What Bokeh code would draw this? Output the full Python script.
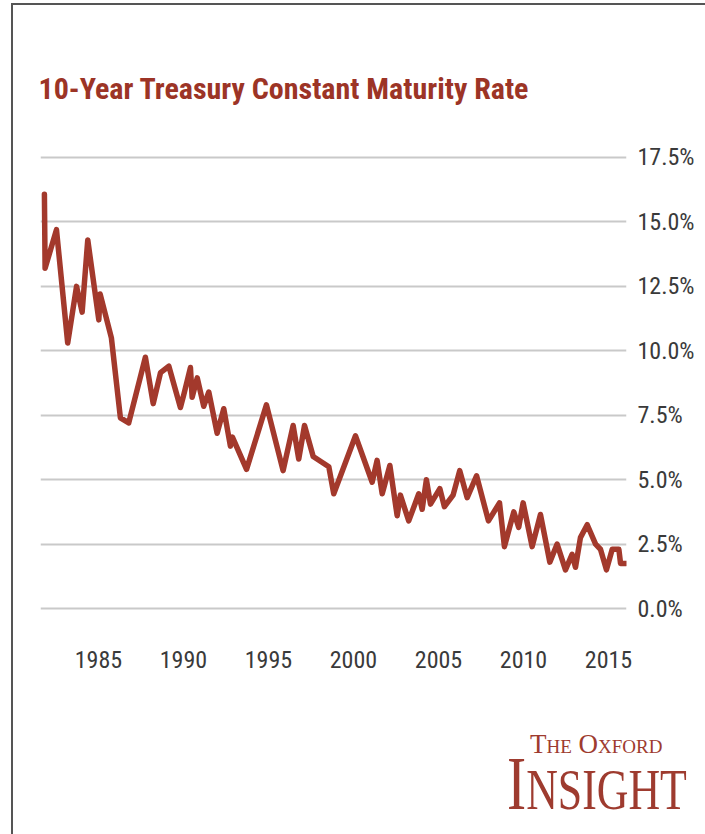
from bokeh.plotting import figure
from bokeh.layouts import column
from bokeh.models import Range1d, FixedTicker, Div
from bokeh.embed import file_html
from bokeh.resources import INLINE

# ---- data ----
years = [1981.82, 1981.86, 1982.53, 1983.19, 1983.71, 1984.04, 1984.37, 1985.02,
         1985.10, 1985.76, 1986.29, 1986.78, 1987.76, 1988.22, 1988.65, 1989.14,
         1989.82, 1990.02, 1990.41, 1990.51, 1990.81, 1991.19, 1991.49, 1991.98,
         1992.37, 1992.76, 1992.88, 1993.71, 1994.88, 1995.86, 1996.45, 1996.78,
         1997.12, 1997.63, 1998.55, 1998.84, 2000.12, 2001.10, 2001.39, 2001.69,
         2002.14, 2002.57, 2002.76, 2003.25, 2003.84, 2004.04, 2004.29, 2004.53,
         2005.08, 2005.35, 2005.86, 2006.25, 2006.69, 2007.24, 2007.94, 2008.59,
         2008.88, 2009.43, 2009.72, 2009.98, 2010.51, 2011.00, 2011.55, 2011.98,
         2012.47, 2012.86, 2013.06, 2013.35, 2013.75, 2014.24, 2014.53, 2014.88,
         2015.22, 2015.61, 2015.71, 2016.05]
rates = [16.07, 13.20, 14.70, 10.30, 12.50, 11.50, 14.30, 11.20,
         12.20, 10.50, 7.40, 7.20, 9.75, 7.95, 9.15, 9.40,
         7.80, 8.30, 9.35, 8.20, 8.95, 7.85, 8.40, 6.80,
         7.75, 6.30, 6.65, 5.40, 7.90, 5.35, 7.10, 5.80,
         7.10, 5.90, 5.50, 4.45, 6.70, 4.90, 5.75, 4.45,
         5.55, 3.60, 4.40, 3.40, 4.45, 3.85, 5.00, 4.05,
         4.65, 3.95, 4.40, 5.35, 4.30, 5.15, 3.40, 4.10,
         2.40, 3.75, 3.15, 4.10, 2.40, 3.65, 1.80, 2.50,
         1.50, 2.10, 1.60, 2.75, 3.25, 2.50, 2.30, 1.50,
         2.30, 2.30, 1.75, 1.75]

y_ticks = [0.0, 2.5, 5.0, 7.5, 10.0, 12.5, 15.0, 17.5]
y_tick_labels = ["0.0%", "2.5%", "5.0%", "7.5%", "10.0%", "12.5%", "15.0%", "17.5%"]
x_ticks = [1985, 1990, 1995, 2000, 2005, 2010, 2015]
x_tick_labels = ["1985", "1990", "1995", "2000", "2005", "2010", "2015"]

title_text = "10-Year Treasury Constant Maturity Rate"
logo_line1 = "The Oxford"
logo_line2 = ("I", "NSIGHT")

RED = "#9c3426"
LINE = "#a3392c"
LOGO = "#9e3b2f"
NARROW = "Roboto Condensed, Liberation Sans Narrow, DejaVu Sans Condensed, sans-serif"

# ---------------- chart ----------------
p = figure(width=705, height=700, output_backend="svg", toolbar_location=None,
           x_range=Range1d(1981.59, 2016.06), y_range=Range1d(-0.31, 17.81),
           y_axis_location="right")
p.min_border_left = 40
p.min_border_right = 79
p.min_border_top = 149
p.min_border_bottom = 84
p.outline_line_color = None
p.background_fill_color = "white"
p.border_fill_alpha = 0

p.title.text = title_text
p.title.align = "left"
p.title.offset = -2
p.title.standoff = 88
p.title.text_font = NARROW
p.title.text_font_style = "bold"
p.title.text_font_size = "30px"
p.title.text_color = RED

p.xgrid.visible = False
p.ygrid.ticker = FixedTicker(ticks=y_ticks)
p.ygrid.grid_line_color = "#c9c9c9"
p.ygrid.grid_line_width = 2

p.line(years, rates, line_color=LINE, line_width=5.5, line_join="round", line_cap="round")

ya = p.yaxis[0]
ya.ticker = FixedTicker(ticks=y_ticks)
ya.major_label_overrides = {t: l for t, l in zip(y_ticks, y_tick_labels)}
xa = p.xaxis[0]
xa.ticker = FixedTicker(ticks=x_ticks)
xa.major_label_overrides = {t: l for t, l in zip(x_ticks, x_tick_labels)}
for ax in (xa, ya):
    ax.axis_line_color = None
    ax.major_tick_line_color = None
    ax.minor_tick_line_color = None
    ax.major_label_text_font = NARROW
    ax.major_label_text_font_size = "24px"
    ax.major_label_text_color = "#3a3a3a"
ya.major_label_standoff = 5
xa.major_label_standoff = 28

# ---------------- logo ----------------
serif = "font-family:'Liberation Serif',serif;color:%s;line-height:1;" % LOGO
logo_html = (
    '<div style="position:relative;width:705px;height:134px;">'
    '<div style="position:absolute;left:525px;top:26px;font-size:27px;'
    'font-variant:small-caps;white-space:nowrap;%s">%s</div>'
    '<div style="position:absolute;left:502px;top:40px;white-space:nowrap;'
    'transform:scaleX(0.756);transform-origin:0 0;%s">'
    '<span style="font-size:76px;">%s</span><span style="font-size:58px;">%s</span></div>'
    '</div>'
) % (serif, logo_line1, serif, logo_line2[0], logo_line2[1])
logo = Div(text=logo_html, width=705, height=134)

shadow = ("inset 11px 0 0 0 #ffffff, inset -7px 0 0 0 #ffffff, inset 0 3px 0 0 #ffffff, "
          "inset 13px 0 0 0 #555555, inset -9px 0 0 0 #555555, inset 0 5px 0 0 #555555")
layout = column(p, logo, spacing=0, styles={"box-shadow": shadow, "background": "white"})

open("out.html", "w").write(file_html(layout, INLINE))
